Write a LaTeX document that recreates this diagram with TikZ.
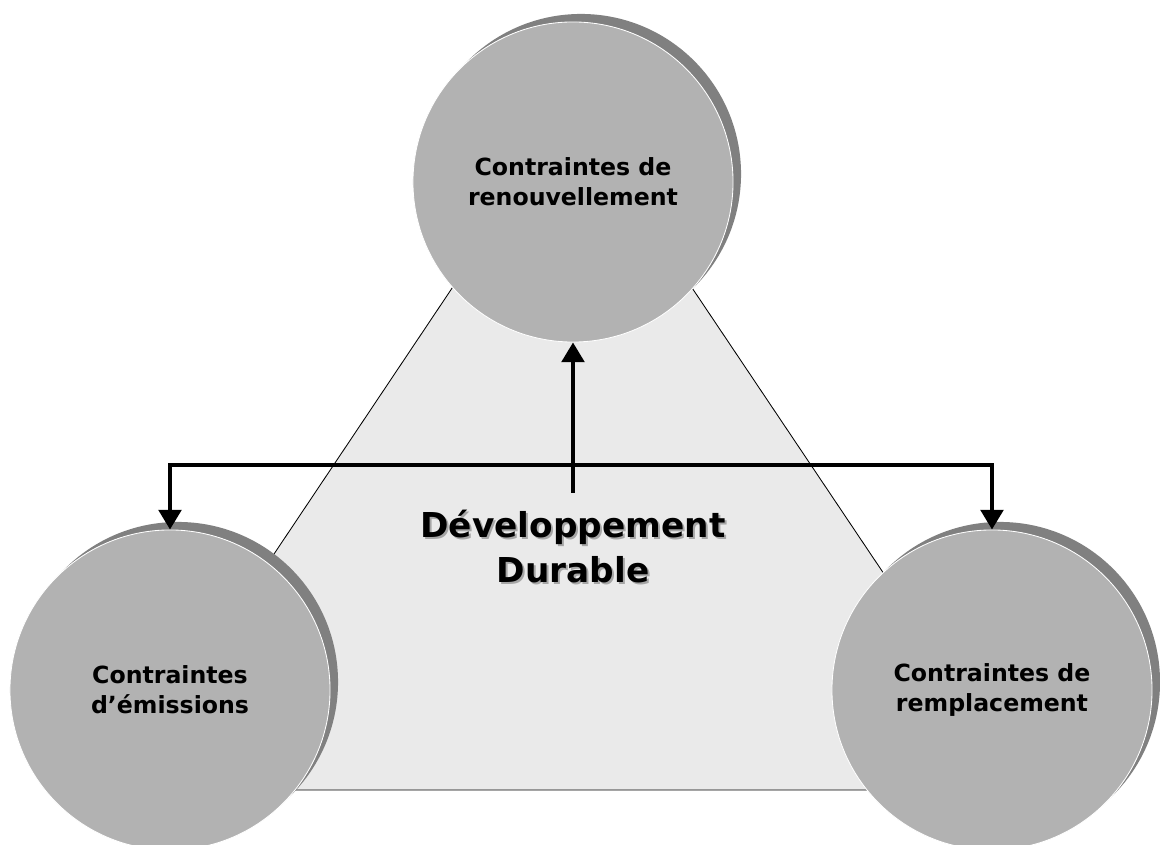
\documentclass[tikz,border=0pt]{standalone}
\usepackage{fontspec}
\setmainfont{DejaVu Sans}
\usetikzlibrary{arrows.meta, shadows}

\definecolor{disque}{HTML}{B2B2B2}
\definecolor{ombre}{HTML}{808080}
\definecolor{fond}{HTML}{EAEAEA}

\begin{document}
\begin{tikzpicture}[
    x=0.025cm, y=-0.025cm,
    contrainte/.style={circle, fill=disque, draw=white, line width=0.6pt,
        minimum size=8cm, inner sep=0pt, align=center,
        font=\bfseries\fontsize{16.8}{21.5}\selectfont,
        copy shadow={shadow xshift=0.2cm, shadow yshift=0.2cm, fill=ombre, draw=none}},
    titre/.style={align=center, font=\bfseries\fontsize{24.4}{32}\selectfont},
    arrow/.style={-{Triangle[length=14pt, width=16pt]}, line width=2.8pt},
    ]

\useasboundingbox (0,0) rectangle (1160,845);

% Triangle
\draw[fill=fond, line width=0.6pt] (572,109) -- (116,790) -- (1029,790) -- cycle;

% Noeuds
\node[contrainte] (renouv) at (573,182) {Contraintes de\\renouvellement};
\node[contrainte] (emis) at (170,690) {Contraintes\\d’émissions};
\node[contrainte] (rempl) at (992,690) {Contraintes de\\remplacement};

\node[titre, text=ombre!70] (ddombre) at (575,549) {Développement\\Durable};
\node[titre] (dd) at (573,547) {Développement\\Durable};

\coordinate (base) at (573,493);
\coordinate (jonction) at (573,465);

% Flèches
\draw[arrow] (base) -- (renouv.south);
\draw[arrow] (jonction) -| (emis.north);
\draw[arrow] (jonction) -| (rempl.north);

\end{tikzpicture}
\end{document}
